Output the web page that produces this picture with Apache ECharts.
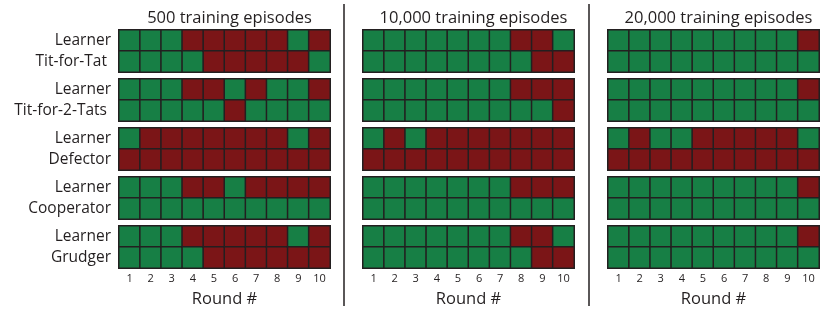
<!DOCTYPE html>
<html>
<head>
<meta charset="utf-8">
<script src="https://cdn.jsdelivr.net/npm/echarts@6/dist/echarts.min.js"></script>
<style>html,body{margin:0;padding:0;background:#fff}#c{width:831px;height:313px}</style>
</head>
<body>
<div id="c"></div>
<script>
// 1 = cooperate (green), 0 = defect (red)
const rounds = ['1','2','3','4','5','6','7','8','9','10'];
const opponents = ['Tit-for-Tat ', 'Tit-for-2-Tats ', 'Defector', 'Cooperator', 'Grudger'];
const panelTitles = ['500 training episodes', '10,000 training episodes', '20,000 training episodes'];

const ep500_learner = [
  [1,1,1,0,0,0,0,0,1,0],
  [1,1,1,0,0,1,0,1,1,0],
  [1,0,0,0,0,0,0,0,1,0],
  [1,1,1,0,0,1,0,0,0,0],
  [1,1,1,0,0,0,0,0,1,0]
];
const ep500_opponent = [
  [1,1,1,1,0,0,0,0,0,1],
  [1,1,1,1,1,0,1,1,1,1],
  [0,0,0,0,0,0,0,0,0,0],
  [1,1,1,1,1,1,1,1,1,1],
  [1,1,1,1,0,0,0,0,0,0]
];
const ep10k_learner = [
  [1,1,1,1,1,1,1,0,0,1],
  [1,1,1,1,1,1,1,0,0,0],
  [1,0,1,0,0,0,0,0,0,0],
  [1,1,1,1,1,1,1,0,0,0],
  [1,1,1,1,1,1,1,0,0,1]
];
const ep10k_opponent = [
  [1,1,1,1,1,1,1,1,0,0],
  [1,1,1,1,1,1,1,1,1,0],
  [0,0,0,0,0,0,0,0,0,0],
  [1,1,1,1,1,1,1,1,1,1],
  [1,1,1,1,1,1,1,1,0,0]
];
const ep20k_learner = [
  [1,1,1,1,1,1,1,1,1,0],
  [1,1,1,1,1,1,1,1,1,0],
  [1,0,1,1,0,0,0,0,0,1],
  [1,1,1,1,1,1,1,1,1,0],
  [1,1,1,1,1,1,1,1,1,0]
];
const ep20k_opponent = [
  [1,1,1,1,1,1,1,1,1,1],
  [1,1,1,1,1,1,1,1,1,1],
  [0,0,0,0,0,0,0,0,0,0],
  [1,1,1,1,1,1,1,1,1,1],
  [1,1,1,1,1,1,1,1,1,1]
];

const panels = [
  {learner: ep500_learner, opponent: ep500_opponent},
  {learner: ep10k_learner, opponent: ep10k_opponent},
  {learner: ep20k_learner, opponent: ep20k_opponent}
];

const GREEN = '#177f45', RED = '#7b1517', INK = '#231f20';
const FONT = 'Open Sans';
const panelLeft = [119, 363, 608];
const panelWidth = 211;
const groupTop = [30, 79, 128, 177, 226];
const groupH = 42;

const grids = [], xAxes = [], yAxes = [], series = [], titles = [];
let gi = 0;
panels.forEach((p, pi) => {
  titles.push({
    text: panelTitles[pi],
    left: panelLeft[pi] + panelWidth / 2, top: 5, textAlign: 'center',
    textStyle: {fontFamily: FONT, fontSize: 16.5, fontWeight: 'normal', color: INK}
  });
  opponents.forEach((opp, oi) => {
    grids.push({left: panelLeft[pi], top: groupTop[oi], width: panelWidth, height: groupH,
      show: true, borderColor: INK, borderWidth: 1.5, backgroundColor: INK});
    const last = oi === opponents.length - 1;
    xAxes.push({
      type: 'category', gridIndex: gi, data: rounds, position: 'bottom',
      axisLine: {show: false}, axisTick: {show: false}, splitLine: {show: false},
      axisLabel: {show: last, fontFamily: FONT, fontSize: 11, color: INK, margin: 5},
      name: last ? 'Round #' : '', nameLocation: 'middle', nameGap: 23,
      nameTextStyle: {fontFamily: FONT, fontSize: 16.5, color: INK}
    });
    yAxes.push({
      type: 'category', gridIndex: gi, data: ['Learner', opp], inverse: true,
      axisLine: {show: false}, axisTick: {show: false}, splitLine: {show: false},
      axisLabel: {show: pi === 0, fontFamily: FONT, fontSize: 15.5, color: INK, margin: 8}
    });
    const data = [];
    rounds.forEach((r, ri) => {
      data.push([ri, 0, p.learner[oi][ri]]);
      data.push([ri, 1, p.opponent[oi][ri]]);
    });
    series.push({
      type: 'heatmap', xAxisIndex: gi, yAxisIndex: gi, data: data,
      itemStyle: {borderColor: INK, borderWidth: 1.5},
      emphasis: {disabled: true}, animation: false
    });
    gi++;
  });
});

const chart = echarts.init(document.getElementById('c'), null, {renderer: 'canvas'});
chart.setOption({
  animation: false,
  backgroundColor: '#fff',
  title: titles,
  grid: grids, xAxis: xAxes, yAxis: yAxes, series: series,
  visualMap: {
    show: false, type: 'piecewise', dimension: 2,
    pieces: [{value: 0, color: RED}, {value: 1, color: GREEN}],
    seriesIndex: series.map((s, i) => i)
  },
  graphic: [
    {type: 'line', shape: {x1: 344, y1: 4, x2: 344, y2: 306}, style: {stroke: INK, lineWidth: 1.5}},
    {type: 'line', shape: {x1: 589, y1: 4, x2: 589, y2: 306}, style: {stroke: INK, lineWidth: 1.5}}
  ]
});
</script>
</body>
</html>
